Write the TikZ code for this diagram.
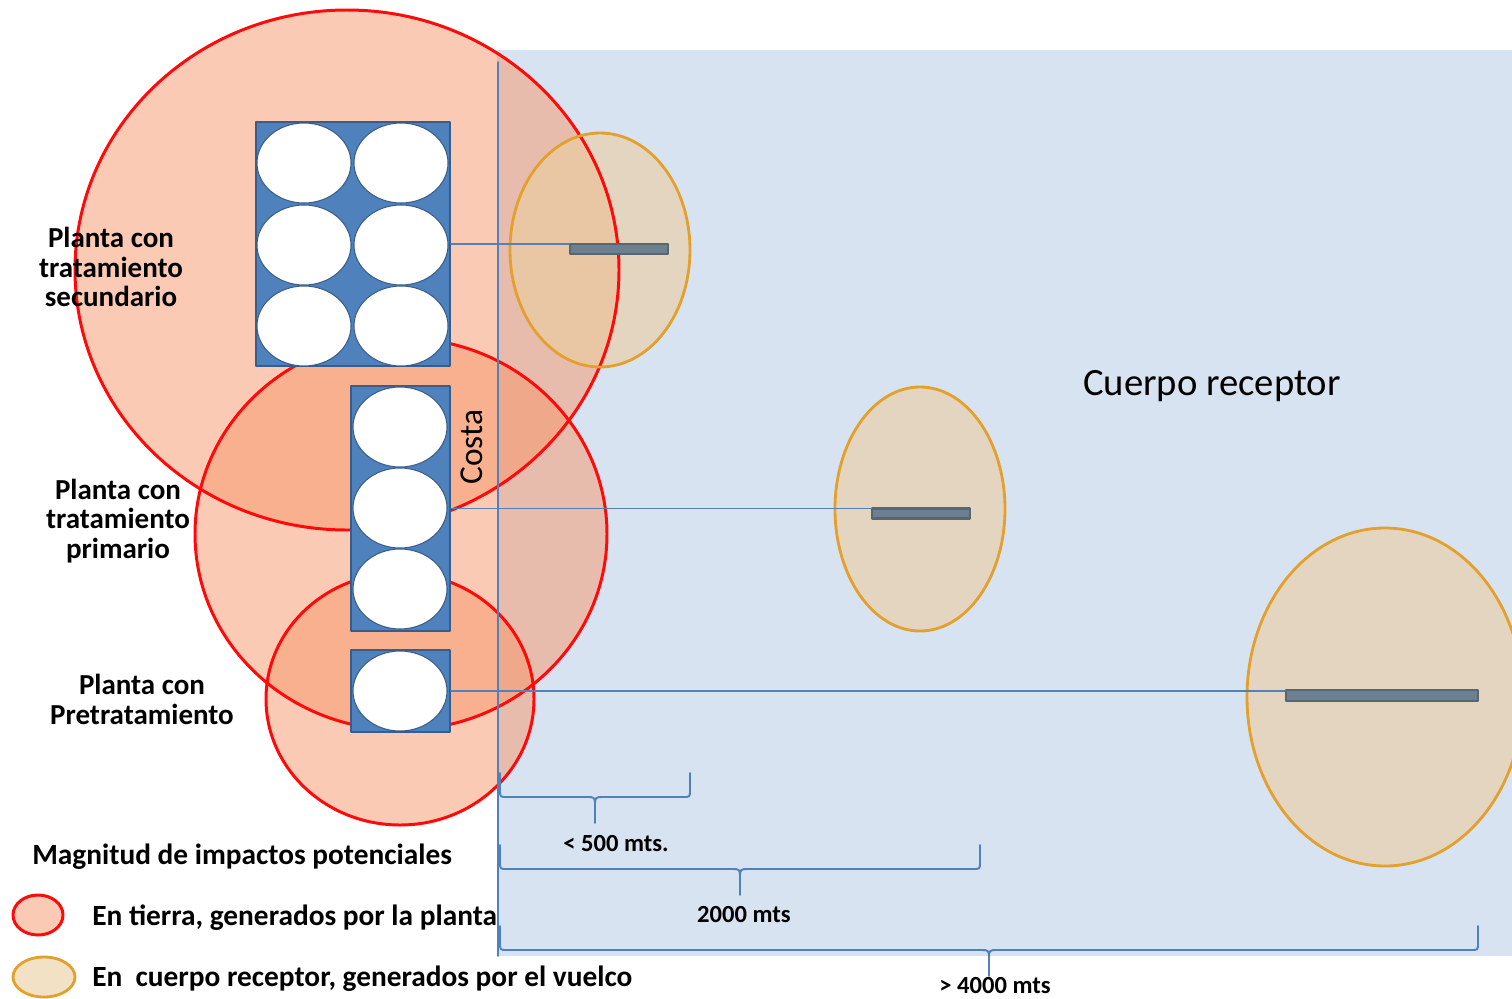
\documentclass[tikz,border=0pt]{standalone}
\usepackage{fontspec}
\setmainfont{Carlito}
\usepackage{tikz}
\usetikzlibrary{positioning}
\usetikzlibrary{calc}

\definecolor{SeaBg}{RGB}{215,227,240}
\definecolor{CoastBlue}{RGB}{79,129,189}
\definecolor{TankEdge}{RGB}{56,93,138}
\definecolor{LandRed}{RGB}{255,10,10}
\definecolor{LandFill}{RGB}{247,150,105}
\definecolor{SeaOrange}{RGB}{228,160,45}
\definecolor{SeaFill}{RGB}{235,205,160}
\definecolor{OutfallGray}{RGB}{108,128,146}
\definecolor{OutfallEdge}{RGB}{88,102,112}

\tikzset{
  landzone/.style={draw=LandRed,line width=1.7pt,fill=LandFill,fill opacity=0.5},
  landfill/.style={fill=LandFill,fill opacity=0.5},
  landline/.style={draw=LandRed,line width=1.7pt},
  seazone/.style={draw=SeaOrange,line width=1.6pt,fill=SeaFill,fill opacity=0.6},
  seafill/.style={fill=SeaFill,fill opacity=0.6},
  sealine/.style={draw=SeaOrange,line width=1.6pt},
  tankbox/.style={draw=TankEdge,line width=1.2pt,fill=CoastBlue,inner sep=0pt},
  tank/.style={draw=TankEdge,line width=0.6pt,fill=white},
  outfall/.style={draw=OutfallEdge,line width=1.2pt,fill=OutfallGray,inner sep=0pt},
  pipe/.style={draw=CoastBlue!85!gray,line width=0.7pt},
  rangebrace/.style={draw=CoastBlue,line width=1.1pt},
  plantlabel/.style={align=center,font=\fontsize{16.5}{17}\selectfont\bfseries},
  distlabel/.style={font=\fontsize{14}{14}\selectfont\bfseries},
  legendtext/.style={anchor=west,inner sep=0pt,font=\fontsize{16.7}{17}\selectfont\bfseries}
}

% llave de distancia: x izq, x der, y de los extremos
\newcommand{\distbrace}[3]{%
  \pgfmathsetmacro{\bmid}{#3+24}%
  \pgfmathsetmacro{\btip}{#3+50}%
  \pgfmathsetmacro{\bcx}{(#1+#2)/2}%
  \draw[rangebrace] (#2,#3) -- (#2,\bmid-7) .. controls (#2,\bmid) .. (#2-7,\bmid)
    -- (\bcx+9,\bmid) .. controls (\bcx,\bmid) .. (\bcx,\bmid+9) -- (\bcx,\btip)
    (\bcx,\bmid+9) .. controls (\bcx,\bmid) .. (\bcx-9,\bmid)
    -- (#1+7,\bmid) .. controls (#1,\bmid) .. (#1,\bmid-7) -- (#1,#3);}

\begin{document}
\begin{tikzpicture}[line cap=round,line join=round,x=0.02cm,y=-0.02cm]
\useasboundingbox (0,0) rectangle (1512,998);
% cuerpo receptor
\fill[SeaBg] (497,50) rectangle (1512,956);
% zonas de impacto: rellenos
\fill[landfill] (347,270) ellipse (272 and 260);
\fill[landfill] (401,534) ellipse (206 and 196);
\fill[landfill] (400,699) ellipse (134 and 126);
\fill[seafill] (600,250) ellipse (90 and 117);
\fill[seafill] (920,509) ellipse (85 and 122);
\fill[seafill] (1385,697) ellipse (138 and 169);
% zonas de impacto: bordes
\draw[landline] (347,270) ellipse (272 and 260);
\draw[landline] (401,534) ellipse (206 and 196);
\draw[landline] (400,699) ellipse (134 and 126);
\draw[sealine] (600,250) ellipse (90 and 117);
\draw[sealine] (920,509) ellipse (85 and 122);
\draw[sealine] (1385,697) ellipse (138 and 169);
% linea de costa
\coordinate (costatop) at (498,62);
\coordinate (costabot) at (498,956);
\draw[CoastBlue,line width=0.9pt] (costatop) -- (costabot);
\node[rotate=90,font=\fontsize{19}{19}\selectfont] (costa) at (472,447) {Costa};

% plantas
\node[tankbox,minimum width=3.88cm,minimum height=4.88cm] (sec) at (353,244) {};
\foreach \cx in {304,401}
  \foreach \cy in {163,245,326}
    \draw[tank] (\cx,\cy) ellipse (47 and 40);
\node[tankbox,minimum width=1.98cm,minimum height=4.9cm] (pri) at (400.5,508.5) {};
\foreach \cy in {427,508,589}
  \draw[tank] (400,\cy) ellipse (47 and 40);
\node[tankbox,minimum width=1.98cm,minimum height=1.64cm] (pre) at (400.5,691) {};
\draw[tank] (400,691) ellipse (47 and 40);

% emisarios
\node[outfall,minimum width=1.96cm,minimum height=0.2cm] (bar1) at (619,249) {};
\node[outfall,minimum width=1.96cm,minimum height=0.2cm] (bar2) at (921,513.5) {};
\node[outfall,minimum width=3.84cm,minimum height=0.22cm] (bar3) at (1382,695.5) {};
\draw[pipe] (sec.east) -- (sec.east -| bar1.west);
\draw[pipe] (pri.east) -- (pri.east -| bar2.west);
\draw[pipe] (pre.east) -- (pre.east -| bar3.west);

% textos
\node[plantlabel] (lblsec) at (111,267) {Planta con\\tratamiento\\secundario};
\node[plantlabel] (lblpri) at (118,521) {Planta con\\tratamiento\\primario};
\node[plantlabel] (lblpre) at (142,699) {Planta con\\Pretratamiento};
\node[font=\fontsize{22}{22}\selectfont] (cuerpo) at (1212,386) {Cuerpo receptor};

% distancias
\distbrace{500}{690}{773}
\distbrace{500}{980}{845}
\distbrace{500}{1478}{926}
\node[distlabel] (d500) at (616,844) {< 500 mts.};
\node[distlabel] (d2000) at (744,915) {2000 mts};
\node[distlabel] (d4000) at (995,986) {> 4000 mts};

% leyenda
\node[legendtext] (legtitle) at (32,857) {Magnitud de impactos potenciales};
\draw[landzone] (38,915) ellipse (25 and 20);
\draw[seazone] (44,977) ellipse (31 and 20);
\node[legendtext] (legland) at (92,918) {En tierra, generados por la planta};
\node[legendtext] (legsea) at (92,979) {En\ \ cuerpo receptor, generados por el vuelco};
\end{tikzpicture}
\end{document}
